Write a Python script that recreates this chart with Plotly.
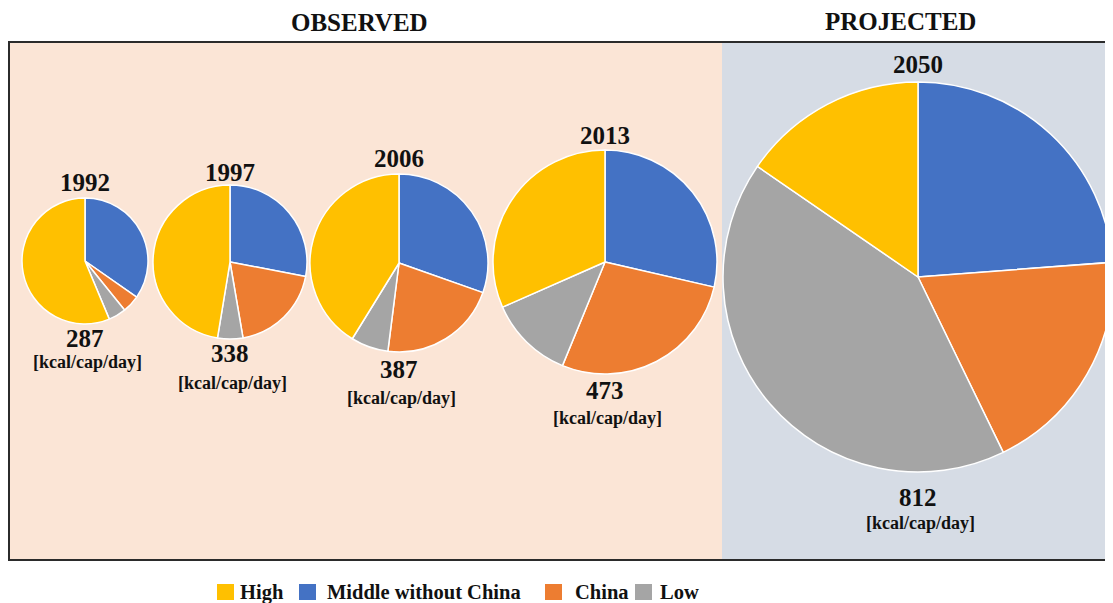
import plotly.graph_objects as go

# The page body has an 8px margin, so the figure is shifted by OFF px.
OFF = 8
W, H = 1113 - OFF, 603 - OFF

groups = ["Middle without China", "China", "Low", "High"]
colors = ["#4472C4", "#ED7D31", "#A5A5A5", "#FFC000"]
years = ["1992", "1997", "2006", "2013", "2050"]
totals = ["287", "338", "387", "473", "812"]
# shares (%) per year, in order: Middle without China, China, Low, High
share_1992 = [34.7, 4.5, 4.5, 56.3]
share_1997 = [28.0, 19.3, 5.3, 47.4]
share_2006 = [30.4, 21.6, 6.8, 41.2]
share_2013 = [28.6, 27.6, 12.2, 31.6]
share_2050 = [23.8, 19.0, 41.8, 15.4]
shares = [share_1992, share_1997, share_2006, share_2013, share_2050]

# layout geometry (screen pixels): centre x, centre y, radius
geom = [(85, 261, 63), (230, 262, 77), (399, 263, 89), (605, 262, 112), (918, 277, 195)]
year_y = [182, 172, 158, 135, 65]
tot_y = [338, 353, 370, 390, 497]
unit_y = [362, 383, 398, 418, 523]

def px(x):
    return (x - OFF) / W

def py(y):
    return 1 - (y - OFF) / H

SERIF = "Liberation Serif, Times New Roman, serif"

fig = go.Figure()
for i, (cx, cy, r) in enumerate(geom):
    x0, x1 = max(0, px(cx - r)), min(1, px(cx + r))
    fig.add_trace(go.Pie(
        labels=groups, values=shares[i], sort=False, direction="clockwise", rotation=0,
        marker=dict(colors=colors, line=dict(color="white", width=1.5)),
        textinfo="none", hoverinfo="label+percent", showlegend=False,
        domain=dict(x=[x0, x1], y=[py(cy + r), py(cy - r)]),
    ))

shapes = [
    dict(type="rect", xref="paper", yref="paper", x0=px(8), x1=px(722), y0=py(560), y1=py(42),
         fillcolor="#FBE5D6", line=dict(width=0), layer="below"),
    dict(type="rect", xref="paper", yref="paper", x0=px(722), x1=px(1125), y0=py(560), y1=py(42),
         fillcolor="#D6DCE5", line=dict(width=0), layer="below"),
    dict(type="rect", xref="paper", yref="paper", x0=px(9), x1=px(1125), y0=py(560), y1=py(42),
         fillcolor="rgba(0,0,0,0)", line=dict(color="#2b2b2b", width=2), layer="below"),
]

annotations = [
    dict(text="<b>OBSERVED</b>", x=px(359), y=py(22), font=dict(size=25)),
    dict(text="<b>PROJECTED</b>", x=px(900), y=py(21), font=dict(size=25)),
]
for i, (cx, cy, r) in enumerate(geom):
    annotations.append(dict(text=f"<b>{years[i]}</b>", x=px(cx), y=py(year_y[i]), font=dict(size=25)))
    annotations.append(dict(text=f"<b>{totals[i]}</b>", x=px(cx), y=py(tot_y[i]), font=dict(size=25)))
    annotations.append(dict(text="<b>[kcal/cap/day]</b>", x=px(cx + 2), y=py(unit_y[i]), font=dict(size=18)))

# legend
leg = [(217, 238), (299, 325), (545, 573), (635, 658)]
leg_labels = ["High", "Middle without China", "China", "Low"]
leg_colors = ["#FFC000", "#4472C4", "#ED7D31", "#A5A5A5"]
for (sx, tx), lab, col in zip(leg, leg_labels, leg_colors):
    shapes.append(dict(type="rect", xref="paper", yref="paper", x0=px(sx), x1=px(sx + 17),
                       y0=py(600), y1=py(584), fillcolor=col, line=dict(width=0)))
    annotations.append(dict(text=f"<b>{lab}</b>", x=px(tx), y=py(592), xanchor="left",
                            font=dict(size=20.5)))

for a in annotations:
    a.setdefault("xref", "paper")
    a.setdefault("yref", "paper")
    a.setdefault("showarrow", False)
    a.setdefault("yanchor", "middle")
    a.setdefault("xanchor", "center")
    a["font"].update(family=SERIF, color="#111111")

fig.update_layout(
    width=W, height=H, margin=dict(l=0, r=0, t=0, b=0),
    paper_bgcolor="white", plot_bgcolor="white",
    shapes=shapes, annotations=annotations, showlegend=False,
)
fig.write_html("out.html")
